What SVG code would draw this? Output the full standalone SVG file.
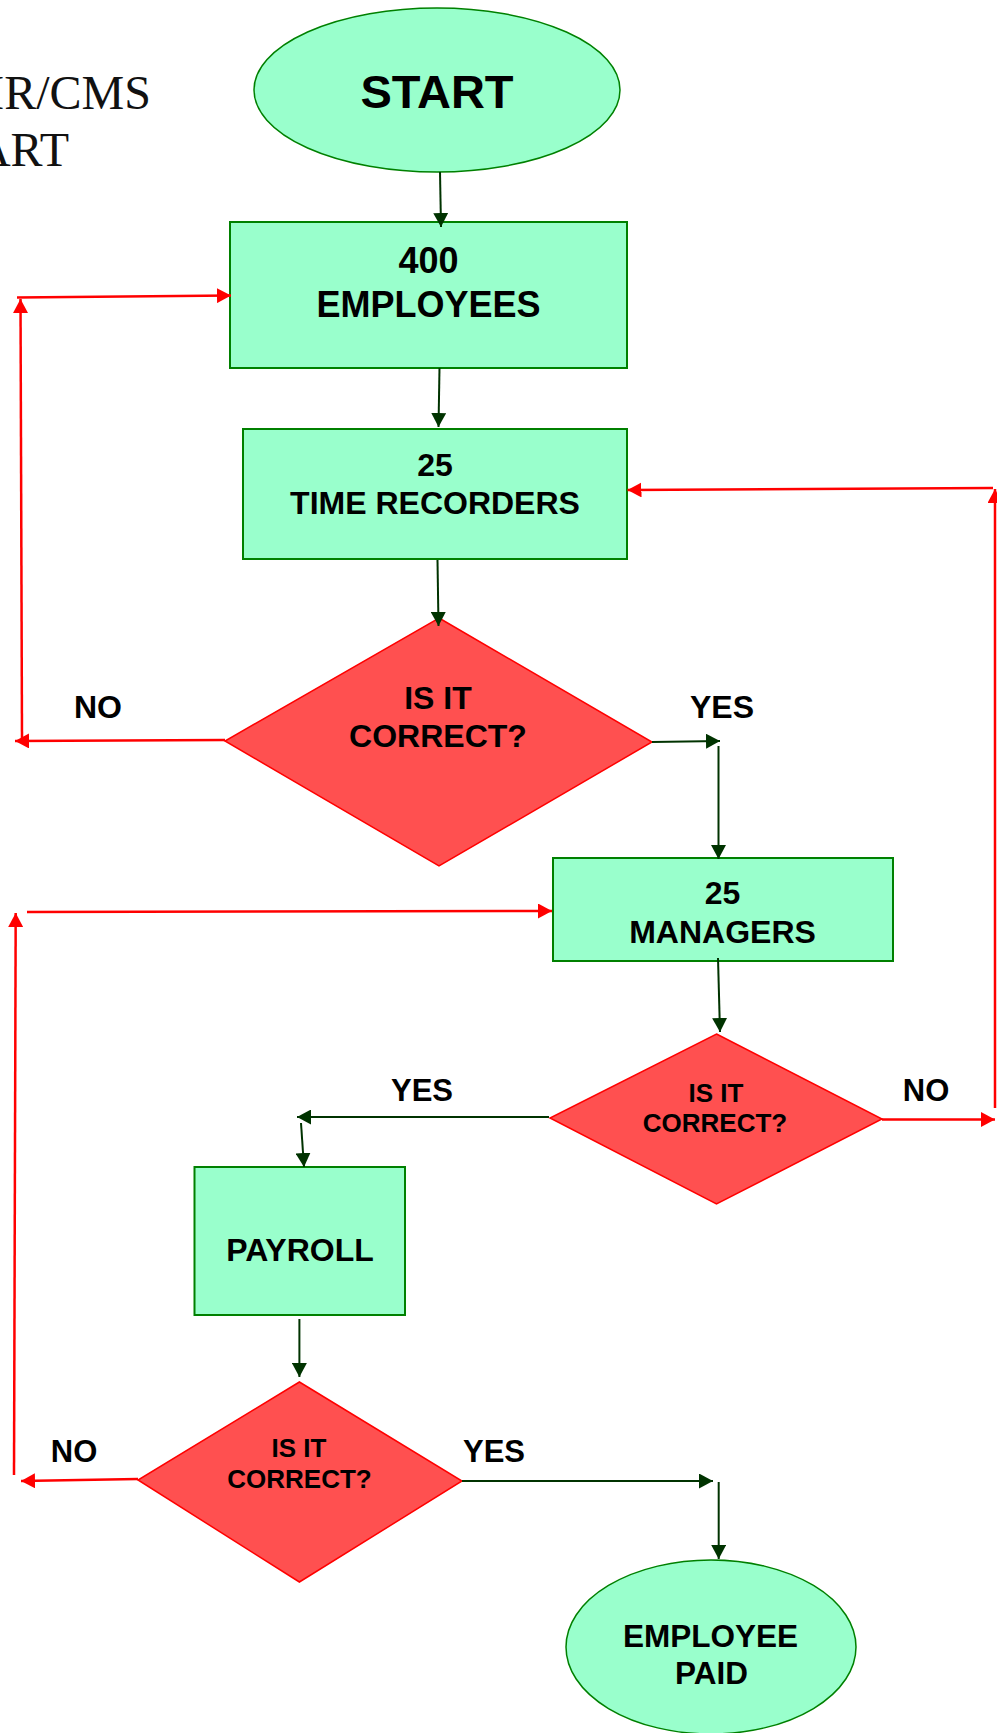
<svg xmlns="http://www.w3.org/2000/svg" width="997" height="1733" viewBox="0 0 997 1733">
<defs>
<style>
.t{font-family:"Liberation Sans",Arial,Helvetica,sans-serif;font-weight:bold;fill:#000;text-anchor:middle}
.title{font-family:"Liberation Serif","Times New Roman",serif;fill:#111;text-anchor:end;font-size:48px}
.box{fill:#99FFCC;stroke:#008000;stroke-width:2}
.oval{fill:#99FFCC;stroke:#008000;stroke-width:1.5}
.dia{fill:#FF5050;stroke:#FF0000;stroke-width:1.5}
.g{fill:none;stroke:#003300;stroke-width:2}
.r{fill:none;stroke:#FF0000;stroke-width:2.5}
</style>
<marker id="ag" markerUnits="userSpaceOnUse" markerWidth="15" markerHeight="15" refX="14" refY="7.5" orient="auto">
<path d="M0,0 L14,7.5 L0,15 z" fill="#003300"/>
</marker>
<marker id="ar" markerUnits="userSpaceOnUse" markerWidth="15" markerHeight="15" refX="14" refY="7.5" orient="auto">
<path d="M0,0 L14,7.5 L0,15 z" fill="#FF0000"/>
</marker>
</defs>
<rect width="997" height="1733" fill="#fff"/>
<g id="title">
<text class="title" x="151" y="109">IR/CMS</text>
<text class="title" x="69" y="166">ART</text>
</g>
<g id="start">
<ellipse class="oval" cx="437" cy="90" rx="183" ry="82"/>
<text class="t" x="437" y="108" font-size="47">START</text>
</g>
<g id="employees">
<rect class="box" x="230" y="222" width="397" height="146"/>
<text class="t" x="428.5" y="273" font-size="36">400</text>
<text class="t" x="428.5" y="317" font-size="36">EMPLOYEES</text>
</g>
<g id="recorders">
<rect class="box" x="243" y="429" width="384" height="130"/>
<text class="t" x="435" y="476" font-size="32">25</text>
<text class="t" x="435" y="514" font-size="32">TIME RECORDERS</text>
</g>
<g id="check1">
<polygon class="dia" points="439,618 652,742 439,866 225,741"/>
<text class="t" x="438" y="709" font-size="32">IS IT</text>
<text class="t" x="438" y="747" font-size="32">CORRECT?</text>
</g>
<g id="managers">
<rect class="box" x="553" y="858" width="340" height="103"/>
<text class="t" x="722.5" y="904" font-size="32">25</text>
<text class="t" x="722.5" y="943" font-size="32">MANAGERS</text>
</g>
<g id="check2">
<polygon class="dia" points="716.5,1034 882,1119 716.5,1204 550,1118"/>
<text class="t" x="716" y="1102" font-size="26">IS IT</text>
<text class="t" x="715" y="1132" font-size="26">CORRECT?</text>
</g>
<g id="payroll">
<rect class="box" x="194.5" y="1167" width="210.5" height="148"/>
<text class="t" x="300" y="1261" font-size="32">PAYROLL</text>
</g>
<g id="check3">
<polygon class="dia" points="299.4,1382 462,1481 299.4,1582 138,1480"/>
<text class="t" x="299" y="1457" font-size="26">IS IT</text>
<text class="t" x="299.5" y="1488" font-size="26">CORRECT?</text>
</g>
<g id="paid">
<ellipse class="oval" cx="711" cy="1647" rx="145" ry="87"/>
<text class="t" x="710.5" y="1647" font-size="31.5">EMPLOYEE</text>
<text class="t" x="711.5" y="1684" font-size="31.5">PAID</text>
</g>
<g id="labels">
<text class="t" x="98" y="718" font-size="32">NO</text>
<text class="t" x="722" y="718" font-size="32">YES</text>
<text class="t" x="422" y="1101" font-size="31">YES</text>
<text class="t" x="926" y="1101" font-size="31">NO</text>
<text class="t" x="74" y="1462" font-size="31">NO</text>
<text class="t" x="494" y="1462" font-size="31">YES</text>
</g>
<g id="connectors">
<line class="g" x1="440" y1="172" x2="441" y2="227" marker-end="url(#ag)"/>
<line class="g" x1="439.5" y1="368" x2="438.5" y2="427" marker-end="url(#ag)"/>
<line class="g" x1="437.5" y1="560" x2="438.5" y2="626" marker-end="url(#ag)"/>
<line class="g" x1="652" y1="742" x2="720" y2="741" marker-end="url(#ag)"/>
<line class="g" x1="718.5" y1="746" x2="718.5" y2="859" marker-end="url(#ag)"/>
<line class="g" x1="718" y1="958" x2="720" y2="1032" marker-end="url(#ag)"/>
<line class="g" x1="549" y1="1117" x2="297" y2="1117" marker-end="url(#ag)"/>
<line class="g" x1="301" y1="1123" x2="304" y2="1167" marker-end="url(#ag)"/>
<line class="g" x1="299.4" y1="1319" x2="299.4" y2="1377" marker-end="url(#ag)"/>
<line class="g" x1="462" y1="1481" x2="713" y2="1481" marker-end="url(#ag)"/>
<line class="g" x1="718.7" y1="1482" x2="718.7" y2="1559" marker-end="url(#ag)"/>
<line class="r" x1="225" y1="740" x2="15" y2="741" marker-end="url(#ar)"/>
<line class="r" x1="22" y1="738" x2="20.5" y2="299" marker-end="url(#ar)"/>
<line class="r" x1="17" y1="297.5" x2="231" y2="295.5" marker-end="url(#ar)"/>
<line class="r" x1="882" y1="1119.5" x2="995" y2="1119.5" marker-end="url(#ar)"/>
<line class="r" x1="995" y1="1108" x2="995" y2="489" marker-end="url(#ar)"/>
<line class="r" x1="993" y1="488" x2="627.5" y2="490" marker-end="url(#ar)"/>
<line class="r" x1="138" y1="1479" x2="21" y2="1481" marker-end="url(#ar)"/>
<line class="r" x1="14" y1="1475" x2="15.7" y2="913" marker-end="url(#ar)"/>
<line class="r" x1="27" y1="912" x2="552" y2="911" marker-end="url(#ar)"/>
</g>
</svg>
